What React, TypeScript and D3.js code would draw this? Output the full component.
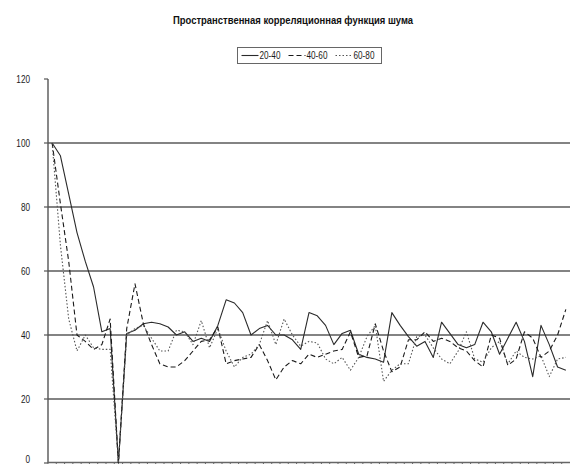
import React from "react";
import * as d3 from "d3";

// Lag index along the horizontal axis
const lags = [
  1, 2, 3, 4, 5, 6, 7, 8, 9, 10, 11, 12, 13, 14, 15, 16, 17, 18, 19, 20,
  21, 22, 23, 24, 25, 26, 27, 28, 29, 30, 31, 32, 33, 34, 35, 36, 37, 38, 39, 40,
  41, 42, 43, 44, 45, 46, 47, 48, 49, 50, 51, 52, 53, 54, 55, 56, 57, 58, 59, 60,
  61, 62, 63,
];

const band2040 = [
  100, 96, 84, 72, 63, 55, 41, 42, 0, 40.5, 41.5, 43.5, 44, 43.5, 42.5,
  40, 41, 38, 39, 38, 43, 51, 50, 47, 40, 42, 43, 40, 40, 38.5,
  35.5, 47, 46, 43, 37, 40.5, 41.5, 34, 33, 32.5, 31.5, 47, 43, 39.5, 36.5,
  38, 33, 44, 40.5, 37, 36, 37, 44, 41, 34, 39, 44, 38, 27, 43, 37, 30, 29,
];

const band4060 = [
  100, 81, 63, 40, 38, 35.5, 37, 45, 0, 42, 56, 43.6, 37, 31, 30,
  30, 32, 35, 38, 38.5, 42.5, 31, 32, 32.5, 33, 37, 32, 26, 30, 32,
  31, 34, 33, 34, 35, 35.5, 41, 33, 33.5, 43.5, 35, 28.5, 30, 38.5, 38.5,
  41, 38, 39, 38, 36, 35, 32, 30, 40, 39, 30.5, 32.5, 41, 39, 33, 35, 40, 48,
];

const band6080 = [
  100, 68, 45, 35, 40, 36, 35.5, 35.5, 0, 40, 42, 43, 39, 35, 35,
  41.5, 41, 37, 44.5, 36, 42, 35, 30, 33, 34, 37, 44.5, 37, 45, 40,
  36.5, 38, 37.5, 32.5, 31, 33, 29, 33, 39.5, 43, 25.5, 29, 31, 31, 39.5,
  40, 36, 32.5, 31, 35, 41, 32.5, 31.5, 36, 38, 31, 35, 33, 32.5, 33.5, 27, 32.5, 33,
];

const seriesNames = ["20-40", "40-60", "60-80"];
const yTicks = [0, 20, 40, 60, 80, 100, 120];
const title = "Пространственная корреляционная функция шума";

const W = 577;
const H = 464;
const FONT = "'Liberation Sans', Arial, sans-serif";
const NARROW = 0.82;

const seriesStyle = [
  { stroke: "#2a2a2a", dash: "none", width: 1.1 },
  { stroke: "#1a1a1a", dash: "5,3", width: 1.1 },
  { stroke: "#555", dash: "1.5,2", width: 1.1 },
];

// Condensed text: regular face squeezed horizontally around its anchor point
function NarrowText(props: {
  x: number;
  y: number;
  size: number;
  anchor?: "start" | "middle" | "end";
  bold?: boolean;
  children: React.ReactNode;
}) {
  const { x, y, size, anchor = "start", bold = false, children } = props;
  return (
    <text
      transform={`translate(${x},${y}) scale(${NARROW},1)`}
      textAnchor={anchor}
      fontFamily={FONT}
      fontWeight={bold ? "bold" : "normal"}
      fontSize={size}
      fill="#1a1a1a"
    >
      {children}
    </text>
  );
}

export default function App() {
  const left = 48;
  const right = 570;
  const x = d3.scaleBand<number>().domain(lags).range([left, right]).padding(0);
  const y = d3.scaleLinear().domain([0, 120]).range([463, 79]);
  const cx = (d: number) => (x(d) as number) + x.bandwidth() / 2;

  const line = d3
    .line<number>()
    .x((_, i) => cx(lags[i]))
    .y((v) => y(v));

  const allSeries = [band2040, band4060, band6080];
  const yAxisY0 = y(0);

  // legend layout
  const lgX = 237.5;
  const lgY = 47.5;
  const lgW = 144;
  const lgH = 16;
  const itemW = 47;

  return (
    <svg
      width={W}
      height={H}
      style={{ position: "absolute", left: 0, top: 0, background: "#fff" }}
    >
      <rect x={0} y={0} width={W} height={H} fill="#fff" />
      <text
        x={293}
        y={24}
        textAnchor="middle"
        fontFamily={FONT}
        fontWeight="bold"
        fontSize={11.5}
        fill="#111"
        textLength={240}
        lengthAdjust="spacingAndGlyphs"
      >
        {title}
      </text>

      {/* legend */}
      <rect x={lgX} y={lgY} width={lgW} height={lgH} fill="#fff" stroke="#666" strokeWidth={1} />
      {seriesNames.map((name, i) => {
        const sx = lgX + 4 + i * itemW;
        const st = seriesStyle[i];
        return (
          <g key={name}>
            <line
              x1={sx}
              x2={sx + 17}
              y1={lgY + lgH / 2}
              y2={lgY + lgH / 2}
              stroke={st.stroke}
              strokeWidth={st.width}
              strokeDasharray={st.dash}
            />
            <NarrowText x={sx + 18} y={lgY + lgH / 2 + 3.5} size={10}>
              {name}
            </NarrowText>
          </g>
        );
      })}

      {/* horizontal gridlines */}
      {yTicks
        .filter((t) => t > 0 && t < 120)
        .map((t) => (
          <line
            key={"g" + t}
            x1={left}
            x2={right}
            y1={y(t)}
            y2={y(t)}
            stroke="#5a5a5a"
            strokeWidth={1.6}
          />
        ))}

      {/* y axis */}
      <line x1={left} x2={left} y1={y(120)} y2={yAxisY0} stroke="#555" strokeWidth={1.4} />
      {yTicks.map((t) => (
        <g key={"t" + t}>
          <line x1={left - 4} x2={left} y1={y(t)} y2={y(t)} stroke="#555" strokeWidth={1.2} />
          <NarrowText x={30} y={Math.min(y(t) + 3.5, H - 1.5)} size={10} anchor="end">
            {t}
          </NarrowText>
        </g>
      ))}

      {/* x axis */}
      <line x1={left} x2={right} y1={yAxisY0 - 0.5} y2={yAxisY0 - 0.5} stroke="#666" strokeWidth={1.6} />
      {lags.map((d) => (
        <line
          key={"xt" + d}
          x1={x(d) as number}
          x2={x(d) as number}
          y1={yAxisY0 - 0.5}
          y2={yAxisY0 + 4}
          stroke="#666"
          strokeWidth={1}
        />
      ))}

      {/* series */}
      {allSeries.map((s, i) => (
        <path
          key={"s" + i}
          d={line(s) as string}
          fill="none"
          stroke={seriesStyle[i].stroke}
          strokeWidth={seriesStyle[i].width}
          strokeDasharray={seriesStyle[i].dash}
          strokeLinejoin="round"
        />
      ))}
    </svg>
  );
}
